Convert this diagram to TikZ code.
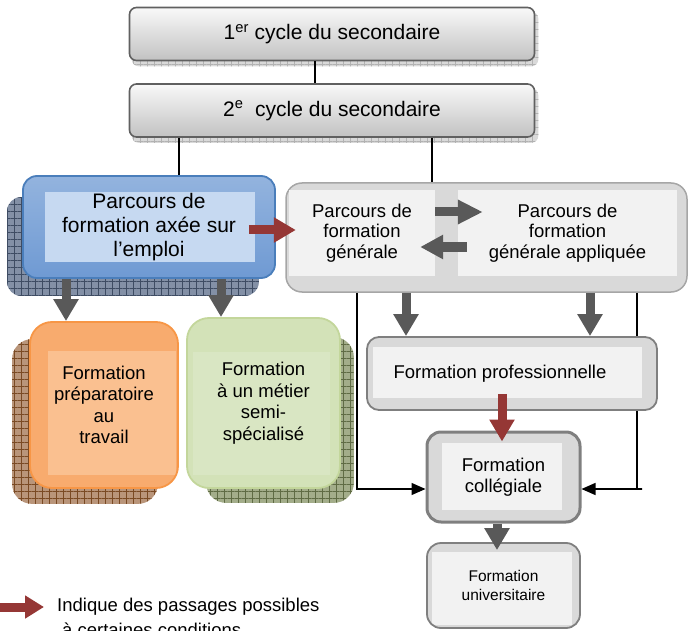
\documentclass[tikz,border=0pt]{standalone}
\usepackage{fontspec}
\setmainfont{Liberation Sans}
\usetikzlibrary{arrows.meta,patterns.meta,backgrounds}
\definecolor{arrowgray}{HTML}{595959}
\definecolor{passred}{HTML}{953735}
\definecolor{boxgray}{HTML}{D9D9D9}
\definecolor{panelgray}{HTML}{F2F2F2}
\definecolor{edgegray}{HTML}{7F7F7F}
\definecolor{emploiblue}{HTML}{6F9AD3}
\definecolor{emploiedge}{HTML}{4A7EBB}
\definecolor{emploipanel}{HTML}{C6D9F1}
\definecolor{prepaorange}{HTML}{F8AB6E}
\definecolor{prepaedge}{HTML}{F79646}
\definecolor{prepapanel}{HTML}{FAC090}
\definecolor{semigreen}{HTML}{D3E2B8}
\definecolor{semiedge}{HTML}{C3D69B}
\definecolor{semipanel}{HTML}{D9E6C3}
\definecolor{shadowblue}{HTML}{8390A6}
\definecolor{shadowblueline}{HTML}{3E4C63}
\definecolor{shadoworange}{HTML}{B9957A}
\definecolor{shadoworangeline}{HTML}{7A4A24}
\definecolor{shadowgreen}{HTML}{A3AD8A}
\definecolor{shadowgreenline}{HTML}{5F6B44}
\tikzstyle{Big}=[font=\fontsize{21}{24}\selectfont, align=center]
\tikzstyle{Mid}=[font=\fontsize{18.5}{21.5}\selectfont, align=center]
\tikzstyle{Small}=[font=\fontsize{15.5}{19}\selectfont, align=center]
\tikzstyle{Cycle}=[rectangle, rounded corners=7pt, minimum width=405pt, minimum height=53pt, draw=gray!75!black, line width=1.6pt, top color=gray!5, bottom color=gray!48, Big]
\tikzstyle{GrayBox}=[rectangle, fill=boxgray, draw=edgegray, line width=1.8pt]
\tikzstyle{Inner}=[rectangle, fill=panelgray, inner sep=0pt, Mid]
\tikzstyle{GrayArrow}=[draw=arrowgray, line width=9pt, -{Triangle[length=22pt,width=24pt]}]
\tikzstyle{RedArrow}=[draw=passred, line width=9pt, -{Triangle[length=22pt,width=24pt]}]
\tikzstyle{Thin}=[draw=black, line width=1.3pt, -{Triangle[length=14pt,width=12pt]}]
\tikzstyle{Link}=[draw=black, line width=1.3pt]
\tikzset{Panel/.style n args={5}{path picture={\fill[#1, sharp corners] ([shift={(#2,#3)}]path picture bounding box.north west) rectangle ([shift={(#4,#5)}]path picture bounding box.south east);}}}
\tikzset{Shadow/.style n args={3}{rounded corners=#1, fill=#2, postaction={pattern={Hatch[distance=7pt,line width=0.7pt]}, pattern color=#3}}}

\begin{document}
\begin{tikzpicture}[x=1pt, y=-1pt]
    \useasboundingbox (0,0) rectangle (688,631);
    \path
    (332,34) node[Cycle] (cycle1) {1\textsuperscript{er} cycle du secondaire}
    (332,110.5) node[Cycle] (cycle2) {2\textsuperscript{e}\ \ cycle du secondaire}
    (149,227) node[rectangle, rounded corners=14pt, minimum width=252pt, minimum height=102pt, draw=emploiedge, line width=1.8pt, top color=emploiblue!75!white, bottom color=emploiblue, Panel={emploipanel}{22pt}{-16pt}{-20pt}{16pt}, Big] (emploi) {Parcours de\\ formation axée sur\\ l’emploi}
    (486.5,237.5) node[GrayBox, rounded corners=16pt, minimum width=401pt, minimum height=109pt, draw=gray!70, line width=1.5pt] (parcours) {}
    (362,233) node[Inner, minimum width=146pt, minimum height=86pt, font=\fontsize{18.5}{20.5}\selectfont] (generale) {Parcours de\\ formation\\ générale}
    (567.5,233) node[Inner, minimum width=219pt, minimum height=86pt, font=\fontsize{18.5}{20.5}\selectfont] (appliquee) {Parcours de\\ formation\\ générale appliquée}
    (104,405) node[rectangle, rounded corners=22pt, minimum width=148pt, minimum height=166pt, draw=prepaedge, line width=1.8pt, fill=prepaorange, Panel={prepapanel}{18pt}{-29pt}{-2pt}{13pt}, Mid] (preparatoire) {Formation\\ préparatoire\\ au\\ travail}
    (263.5,403) node[rectangle, rounded corners=22pt, minimum width=153pt, minimum height=170pt, draw=semiedge, line width=1.8pt, fill=semigreen, Panel={semipanel}{6pt}{-34pt}{-10pt}{13pt}, Mid] (semi) {Formation\\ à un métier\\ semi-\\ spécialisé}
    (503.5,477) node[GrayBox, rounded corners=14pt, minimum width=153pt, minimum height=90pt, line width=3pt, Panel={panelgray}{15pt}{-11pt}{-18pt}{12pt}, Mid] (college) {Formation\\ collégiale}
    (503.5,585.5) node[GrayBox, rounded corners=14pt, minimum width=153pt, minimum height=85pt, Panel={panelgray}{5pt}{-9pt}{-8pt}{3pt}, Small] (univ) {Formation\\ universitaire}
    (57,607) node[Mid, anchor=west, inner sep=0pt] (legend) {Indique des passages possibles}
    (62,636) node[Mid, anchor=base west, inner sep=0pt] (legend2) {à certaines conditions};

    \coordinate (stub) at (642,489);
    \coordinate (legtail) at (0,607);
    \draw[Thin] ([xshift=-129.5pt]parcours.south) |- ([yshift=-12pt]college.west);
    \draw[Thin] ([xshift=150.5pt]parcours.south) |- (stub) -- ([yshift=-12pt]college.east);

    \path (512,373.5) node[GrayBox, rounded corners=12pt, minimum width=290pt, minimum height=73pt, Panel={panelgray}{6pt}{-10pt}{-15pt}{12pt}, Mid] (prof) {Formation professionnelle\hspace*{24pt}};

    \begin{scope}[on background layer]
        \fill[Shadow={7pt}{gray!30}{gray!60}] ([shift={(3pt,-5pt)}]cycle1.north west) rectangle ([shift={(3pt,-5pt)}]cycle1.south east);
        \fill[Shadow={7pt}{gray!30}{gray!60}] ([shift={(3pt,-5pt)}]cycle2.north west) rectangle ([shift={(3pt,-5pt)}]cycle2.south east);
        \fill[Shadow={14pt}{shadowblue}{shadowblueline}] ([shift={(-15pt,-22pt)}]emploi.north west) rectangle ([shift={(-17pt,-17pt)}]emploi.south east);
        \fill[Shadow={20pt}{shadoworange}{shadoworangeline}] ([shift={(-17pt,-18pt)}]preparatoire.north west) rectangle ([shift={(-21pt,-15pt)}]preparatoire.south east);
        \fill[Shadow={20pt}{shadowgreen}{shadowgreenline}] ([shift={(20pt,-20pt)}]semi.north west) rectangle ([shift={(13pt,-14pt)}]semi.south east);
    \end{scope}

    \draw[Link] ([xshift=-17pt]cycle1.south) -- ([xshift=-17pt]cycle2.north);
    \draw[Link] ([xshift=-153pt]cycle2.south) -- ([xshift=-153pt]cycle2.south |- emploi.north);
    \draw[Link] ([xshift=100pt]cycle2.south) -- ([xshift=100pt]cycle2.south |- parcours.north);

    \draw[RedArrow] ([xshift=-27pt,yshift=-3pt]emploi.east) -- ([xshift=7pt,yshift=3pt]generale.west);
    \draw[GrayArrow, -{Triangle[length=25pt,width=23pt]}] ([yshift=21pt]generale.east) -- ([xshift=25pt,yshift=21pt]appliquee.west);
    \draw[GrayArrow, -{Triangle[length=23pt,width=23pt]}] ([xshift=9pt,yshift=-14pt]appliquee.west) -- ([xshift=-15pt,yshift=-14pt]generale.east);
    \draw[GrayArrow] ([xshift=-83pt]emploi.south) -- ([xshift=-83pt]emploi.south |- preparatoire.north);
    \draw[GrayArrow] ([xshift=72pt]emploi.south) -- ([xshift=72pt]emploi.south |- semi.north);
    \draw[GrayArrow] ([xshift=-106pt]prof.north |- parcours.south) -- ([xshift=-106pt]prof.north);
    \draw[GrayArrow] ([xshift=78pt]prof.north |- parcours.south) -- ([xshift=78pt]prof.north);
    \draw[RedArrow] ([xshift=-10pt,yshift=17pt]prof.south) -- ([xshift=-1.5pt,yshift=-11pt]college.north);
    \draw[GrayArrow] ([xshift=-6.5pt]college.south) -- ([xshift=-6.5pt,yshift=-8pt]univ.north);
    \draw[RedArrow, -{Triangle[length=19pt,width=22pt]}] (legtail) -- ([xshift=-13pt]legend.west);
\end{tikzpicture}
\end{document}
